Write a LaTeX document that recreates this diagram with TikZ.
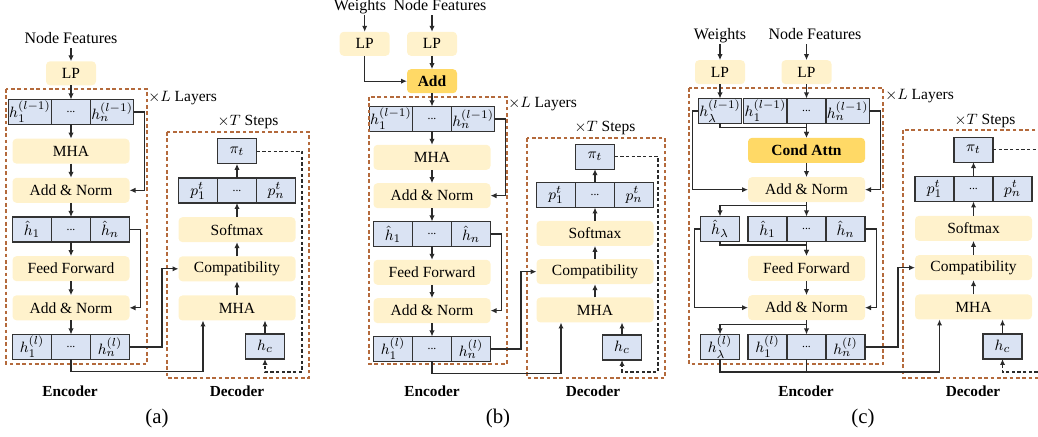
\documentclass[tikz,border=0pt]{standalone}
\usepackage{fontspec}
\setmainfont{Liberation Serif}
\usepackage{amsmath, amssymb}
\usetikzlibrary{arrows.meta, positioning}

\definecolor{boxyellow}{HTML}{FFF2CC}
\definecolor{keyorange}{HTML}{FFD966}
\definecolor{cellblue}{HTML}{DAE3F3}
\definecolor{cellline}{HTML}{333333}
\definecolor{wire}{HTML}{2A2A2A}
\definecolor{framebrown}{HTML}{B46A3C}

% two outer cells of a token row, hung on the middle cell #1
\newcommand{\sidecells}[3]{%
  \node[cell, left=0pt of #1] (#1-l) {#2};
  \node[cell, right=0pt of #1] (#1-r) {#3};}

\begin{document}
\begin{tikzpicture}[
    x=0.6pt, y=-0.6pt,
    node distance=8.5pt,
    font=\fontsize{9.3}{11}\selectfont,
    block/.style={
        fill=boxyellow,
        rounded corners=2.4pt,
        minimum width=70.2pt,
        minimum height=15pt,
        inner sep=1pt,
        outer sep=0pt
    },
    keyblock/.style={block, fill=keyorange, font=\fontsize{9.3}{11}\selectfont\bfseries},
    lpbox/.style={block, minimum width=30pt, minimum height=14.4pt},
    cell/.style={
        draw=cellline,
        fill=cellblue,
        line width=0.7pt,
        minimum width=23.4pt,
        minimum height=15pt,
        inner sep=0.5pt,
        outer sep=0pt
    },
    inlabel/.style={inner sep=1pt, text height=7pt, text depth=2pt, font=\fontsize{9.6}{11}\selectfont},
    stagebox/.style={draw=framebrown, line width=0.8pt, dash pattern=on 2.2pt off 1.6pt},
    caption/.style={font=\fontsize{9.2}{11}\selectfont\bfseries},
    sublabel/.style={font=\fontsize{12.5}{14}\selectfont},
    wireline/.style={draw=wire, line width=0.75pt},
    arrow/.style={wireline, -{Latex[length=3.6pt, width=3.2pt]}},
    feedback/.style={arrow, dash pattern=on 2pt off 1.4pt}
]
\useasboundingbox (0,0) rectangle (1038,437);
\clip (0,0) rectangle (1038,437);

% ---------- (a) ----------
\node[cell] (a-h0) at (71,112) {\scriptsize ...};
\sidecells{a-h0}{$h_1^{(l-1)}$}{$h_n^{(l-1)}$}
\node[lpbox, above=of a-h0] (a-lp) {LP};
\node[inlabel] (a-nf) at (71,39) {Node Features};
\node[block, below=of a-h0] (a-mha) {MHA};
\node[block, below=of a-mha] (a-an1) {Add \& Norm};
\node[cell, below=of a-an1] (a-hh) {\scriptsize ...};
\sidecells{a-hh}{$\hat{h}_1$}{$\hat{h}_n$}
\node[block, below=of a-hh] (a-ff) {Feed Forward};
\node[block, below=of a-ff] (a-an2) {Add \& Norm};
\node[cell, below=of a-an2] (a-h1) {\scriptsize ...};
\sidecells{a-h1}{$h_1^{(l)}$}{$h_n^{(l)}$}

\node[block] (a-dmha) at (237,308) {MHA};
\node[block, above=of a-dmha] (a-cmp) {Compatibility};
\node[block, above=of a-cmp] (a-sm) {Softmax};
\node[cell, above=of a-sm] (a-p) {\scriptsize ...};
\sidecells{a-p}{$p_1^t$}{$p_n^t$}
\node[cell, above=of a-p] (a-pi) {$\pi_t$};
\node[cell] (a-hc) at (265,346.5) {$h_c$};

\draw[stagebox] (6,89) rectangle (147,364);
\draw[stagebox] (167,132) rectangle (309,378);
\node[anchor=west, inner sep=0pt] (a-L) at (148,98) {$\times L$ Layers};
\node (a-T) at (248,122) {$\times T$ Steps};
\node[caption] (a-enc) at (70,391) {Encoder};
\node[caption] (a-dec) at (237,391) {Decoder};
\node[sublabel] (a-tag) at (157,418) {(a)};

\draw[arrow] (a-lp |- a-nf.south) -- (a-lp);
\draw[arrow] (a-lp) -- (a-h0);
\draw[arrow] (a-h0) -- (a-mha);
\draw[arrow] (a-mha) -- (a-an1);
\draw[arrow] (a-an1) -- (a-hh);
\draw[arrow] (a-hh) -- (a-ff);
\draw[arrow] (a-ff) -- (a-an2);
\draw[arrow] (a-an2) -- (a-h1);
\draw[arrow] (a-h0-r.east) -- ++(11,0) |- (a-an1.east);
\draw[arrow] (a-hh-r.east) -- ++(11,0) |- (a-an2.east);
\draw[arrow] (a-h1-r.east) -- ++(32.5,0) |- (a-cmp.west);
\draw[arrow] (a-h1.south) -- ++(0,12) -| ([xshift=-20.4pt]a-dmha.south);
\draw[arrow] (a-hc) -- (a-hc |- a-dmha.south);
\draw[arrow] (a-dmha) -- (a-cmp);
\draw[arrow] (a-cmp) -- (a-sm);
\draw[arrow] (a-sm) -- (a-p);
\draw[arrow] (a-p) -- (a-pi);
\coordinate (a-back) at (302,372);
\draw[feedback] (a-pi.east) -| (a-back) -| (a-hc.south);

% ---------- (b) ----------
\begin{scope}[node distance=8pt]
\node[cell] (b-h0) at (432,119) {\scriptsize ...};
\sidecells{b-h0}{$h_1^{(l-1)}$}{$h_n^{(l-1)}$}
\node[lpbox, keyblock, minimum width=30pt, minimum height=14.4pt, above=of b-h0] (b-add) {Add};
\node[lpbox, above=of b-add] (b-lpn) {LP};
\node[lpbox] (b-lpw) at (364.7,0 |- b-lpn) {LP};
\node[inlabel] (b-wt) at (360,6) {Weights};
\node[inlabel] (b-nf) at (440,6) {Node Features};
\node[block, below=of b-h0] (b-mha) {MHA};
\node[block, below=of b-mha] (b-an1) {Add \& Norm};
\node[cell, below=of b-an1] (b-hh) {\scriptsize ...};
\sidecells{b-hh}{$\hat{h}_1$}{$\hat{h}_n$}
\node[block, below=of b-hh] (b-ff) {Feed Forward};
\node[block, below=of b-ff] (b-an2) {Add \& Norm};
\node[cell, below=of b-an2] (b-h1) {\scriptsize ...};
\sidecells{b-h1}{$h_1^{(l)}$}{$h_n^{(l)}$}

\node[block] (b-dmha) at (595,310) {MHA};
\node[block, above=of b-dmha] (b-cmp) {Compatibility};
\node[block, above=of b-cmp] (b-sm) {Softmax};
\node[cell, above=of b-sm] (b-p) {\scriptsize ...};
\sidecells{b-p}{$p_1^t$}{$p_n^t$}
\node[cell, above=of b-p] (b-pi) {$\pi_t$};
\node[cell] (b-hc) at (622,347.5) {$h_c$};
\end{scope}

\draw[stagebox] (369,97) rectangle (507,364);
\draw[stagebox] (527,138) rectangle (665,378);
\node[anchor=west, inner sep=0pt] (b-L) at (508,104) {$\times L$ Layers};
\node (b-T) at (605,128) {$\times T$ Steps};
\node[caption] (b-enc) at (432,391) {Encoder};
\node[caption] (b-dec) at (593,391) {Decoder};
\node[sublabel] (b-tag) at (498,418) {(b)};

\draw[arrow] (b-lpw |- b-wt.south) -- (b-lpw);
\draw[arrow] (b-lpn |- b-nf.south) -- (b-lpn);
\draw[arrow] (b-lpn) -- (b-add);
\draw[arrow] (b-lpw) |- (b-add);
\draw[arrow] (b-add) -- (b-h0);
\draw[arrow] (b-h0) -- (b-mha);
\draw[arrow] (b-mha) -- (b-an1);
\draw[arrow] (b-an1) -- (b-hh);
\draw[arrow] (b-hh) -- (b-ff);
\draw[arrow] (b-ff) -- (b-an2);
\draw[arrow] (b-an2) -- (b-h1);
\draw[arrow] (b-h0-r.east) -- ++(11,0) |- (b-an1.east);
\draw[arrow] (b-hh-r.east) -- ++(11,0) |- (b-an2.east);
\draw[arrow] (b-h1-r.east) -- ++(30.5,0) |- (b-cmp.west);
\draw[arrow] (b-h1.south) -- ++(0,12) -| ([xshift=-20.4pt]b-dmha.south);
\draw[arrow] (b-hc) -- (b-hc |- b-dmha.south);
\draw[arrow] (b-dmha) -- (b-cmp);
\draw[arrow] (b-cmp) -- (b-sm);
\draw[arrow] (b-sm) -- (b-p);
\draw[arrow] (b-p) -- (b-pi);
\coordinate (b-back) at (658,372);
\draw[feedback] (b-pi.east) -| (b-back) -| (b-hc.south);

% ---------- (c) ----------
\begin{scope}[node distance=8.6pt]
\node[cell] (c-h0) at (806.5,111) {\scriptsize ...};
\sidecells{c-h0}{$h_1^{(l-1)}$}{$h_n^{(l-1)}$}
\node[lpbox, above=of c-h0] (c-lpn) {LP};
\node[lpbox] (c-lpw) at (720,0 |- c-lpn) {LP};
\node[inlabel] (c-wt) at (720,35) {Weights};
\node[inlabel] (c-nf) at (815,35) {Node Features};
\node[cell] (c-l0) at (c-lpw |- c-h0) {$h_\lambda^{(l-1)}$};
\node[keyblock, below=of c-h0] (c-ca) {Cond Attn};
\node[block, below=of c-ca] (c-an1) {Add \& Norm};
\node[cell, below=of c-an1] (c-hh) {\scriptsize ...};
\sidecells{c-hh}{$\hat{h}_1$}{$\hat{h}_n$}
\node[cell] (c-l1) at (c-lpw |- c-hh) {$\hat{h}_\lambda$};
\node[block, below=of c-hh] (c-ff) {Feed Forward};
\node[block, below=of c-ff] (c-an2) {Add \& Norm};
\node[cell, below=of c-an2] (c-h1) {\scriptsize ...};
\sidecells{c-h1}{$h_1^{(l)}$}{$h_n^{(l)}$}
\node[cell] (c-l2) at (c-lpw |- c-h1) {$h_\lambda^{(l)}$};

\node[block] (c-dmha) at (973.5,307) {MHA};
\node[block, above=of c-dmha] (c-cmp) {Compatibility};
\node[block, above=of c-cmp] (c-sm) {Softmax};
\node[cell, above=of c-sm] (c-p) {\scriptsize ...};
\sidecells{c-p}{$p_1^t$}{$p_n^t$}
\node[cell, above=of c-p] (c-pi) {$\pi_t$};
\node[cell] (c-hc) at (1002.5,346.5) {$h_c$};
\end{scope}

\draw[stagebox] (689,88) rectangle (883,364);
\draw[stagebox] (903,130) rectangle (1060,378);
\node[anchor=west, inner sep=0pt] (c-L) at (885,96) {$\times L$ Layers};
\node (c-T) at (985,121) {$\times T$ Steps};
\node[caption] (c-enc) at (806,391) {Encoder};
\node[caption] (c-dec) at (973,391) {Decoder};
\node[sublabel] (c-tag) at (863,418) {(c)};

\draw[arrow] (c-lpw |- c-wt.south) -- (c-lpw);
\draw[arrow] (c-lpn |- c-nf.south) -- (c-lpn);
\draw[arrow] (c-lpw) -- (c-l0);
\draw[arrow] (c-lpn) -- (c-h0);
\draw[arrow] (c-h0) -- (c-ca);
\draw[arrow] (c-l0.south) -- ++(0,4) -| (c-ca.north);
\draw[arrow] (c-l0.west) -- ++(-5.7,0) |- (c-an1.west);
\draw[arrow] (c-h0-r.east) -- ++(11.7,0) |- (c-an1.east);
\draw[arrow] (c-ca) -- (c-an1);
\draw[arrow] (c-an1) -- (c-hh);
\draw[arrow] (c-an1.south) -- ++(0,3.5) -| (c-l1.north);
\draw[arrow] (c-hh) -- (c-ff);
\draw[arrow] (c-l1.south) -- ++(0,3.5) -| (c-ff.north);
\draw[arrow] (c-l1.west) -- ++(-5.7,0) |- (c-an2.west);
\draw[arrow] (c-hh-r.east) -- ++(11.7,0) |- (c-an2.east);
\draw[arrow] (c-ff) -- (c-an2);
\draw[arrow] (c-an2) -- (c-h1);
\draw[arrow] (c-an2.south) -- ++(0,4) -| (c-l2.north);
\draw[arrow] (c-l2.south) -- ++(0,12.5) -| ([xshift=-20.4pt]c-dmha.south);
\draw[wireline] (c-h1.south) -- ++(0,12.5);
\draw[arrow] (c-h1-r.east) -- ++(33,0) |- (c-cmp.west);
\draw[arrow] (c-hc) -- (c-hc |- c-dmha.south);
\draw[arrow] (c-dmha) -- (c-cmp);
\draw[arrow] (c-cmp) -- (c-sm);
\draw[arrow] (c-sm) -- (c-p);
\draw[arrow] (c-p) -- (c-pi);
\coordinate (c-back) at (1060,372);
\draw[feedback] (c-pi.east) -| (c-back) -| (c-hc.south);

\end{tikzpicture}
\end{document}
